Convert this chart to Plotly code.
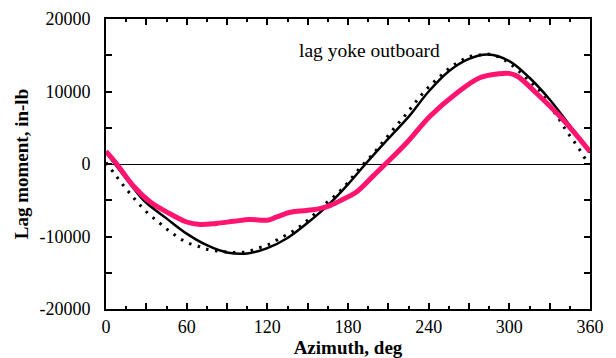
import plotly.graph_objects as go

# Black solid curve
solid_az = [0, 15, 28, 45, 60, 75, 90, 105, 120, 135, 150, 165, 180, 193, 210, 225, 240, 255, 270, 284, 300, 315, 330, 345, 360]
solid_val = [1600, -2000, -5000, -7500, -9600, -11200, -12200, -12350, -11600, -10200, -8100, -5700, -2800, 0, 3500, 6500, 10000, 12800, 14500, 15100, 14200, 11900, 8900, 5300, 1600]

# Black dotted curve
dot_az = [0, 6, 12, 18, 24, 31.5, 39, 46, 52.5, 60, 68, 75, 90, 98, 105, 112, 120, 127, 134, 142, 149, 157, 164, 172, 179, 185, 191.5, 198, 204, 210, 216, 222, 228, 234, 241, 248, 256, 263, 270, 278, 285, 293, 300, 307, 315, 322, 330, 337, 342, 347, 352, 357, 360]
dot_val = [200, -1280, -2740, -4100, -5400, -6850, -8000, -9100, -9950, -10800, -11300, -11750, -12150, -12200, -12100, -11650, -11200, -10500, -9800, -8900, -7900, -6600, -5350, -4100, -2750, -1400, 0, 1250, 2600, 3950, 5300, 6600, 8000, 9400, 10800, 12000, 13300, 14150, 14800, 15050, 15150, 14700, 13900, 12800, 11400, 10250, 8000, 6200, 4700, 3400, 2050, 600, 100]

# Pink curve
pink_az = [0, 8, 20, 33, 45, 60, 70, 82, 95, 107, 120, 127, 137, 149, 159, 167, 176, 186, 199, 209, 224, 241, 261, 278, 292, 300, 306, 320, 340, 360]
pink_val = [1750, 0, -2970, -5250, -6600, -8000, -8350, -8200, -7900, -7650, -7750, -7300, -6650, -6400, -6150, -5700, -4900, -3900, -1600, 200, 3000, 6600, 9800, 11900, 12450, 12500, 12100, 9800, 6100, 1700]

x_ticks = list(range(0, 361, 30))
x_labels = [str(v) if v % 60 == 0 else "" for v in x_ticks]
y_ticks = list(range(-20000, 20001, 5000))
y_labels = [str(v) if v % 10000 == 0 else "" for v in y_ticks]

font_family = "Liberation Serif, Times New Roman, serif"

fig = go.Figure()
fig.add_trace(go.Scatter(x=solid_az, y=solid_val, mode="lines",
                         line=dict(color="black", width=2.5, shape="spline"), showlegend=False))
fig.add_trace(go.Scatter(x=dot_az, y=dot_val, mode="lines",
                         line=dict(color="black", width=3, dash="2.5px,6.5px", shape="spline"), showlegend=False))
fig.add_trace(go.Scatter(x=pink_az, y=pink_val, mode="lines",
                         line=dict(color="#FF1470", width=5, shape="spline"), showlegend=False))

fig.add_annotation(x=196, y=15600, text="lag yoke outboard", showarrow=False,
                   xanchor="center", yanchor="middle",
                   font=dict(family=font_family, size=19.5, color="black"))

fig.update_layout(
    width=616, height=358,
    margin=dict(l=106, r=26, t=19, b=49),
    paper_bgcolor="white", plot_bgcolor="white",
    font=dict(family=font_family, size=18, color="black"),
)
fig.update_xaxes(
    range=[0, 360], tickvals=x_ticks, ticktext=x_labels,
    ticks="inside", ticklen=6, tickwidth=1.5, tickcolor="black",
    minor=dict(dtick=15, ticks="inside", ticklen=3, tickwidth=1.5, tickcolor="black"),
    showline=True, linecolor="black", linewidth=2, mirror="ticks",
    showgrid=False, zeroline=False, automargin=False,
    title=dict(text="<b>Azimuth, deg</b>", font=dict(family=font_family, size=19), standoff=6),
    tickfont=dict(family=font_family, size=18),
)
fig.update_yaxes(
    range=[-20000, 20000], tickvals=y_ticks, ticktext=y_labels,
    ticks="inside", ticklen=6, tickwidth=1.5, tickcolor="black",
    showline=True, linecolor="black", linewidth=2, mirror="ticks",
    showgrid=False, zeroline=True, zerolinecolor="black", zerolinewidth=1, automargin=False,
    title=dict(text="<b>Lag moment, in-lb</b>", font=dict(family=font_family, size=19), standoff=6),
    tickfont=dict(family=font_family, size=18), ticklabelstandoff=10,
)

fig.write_html("out.html")
